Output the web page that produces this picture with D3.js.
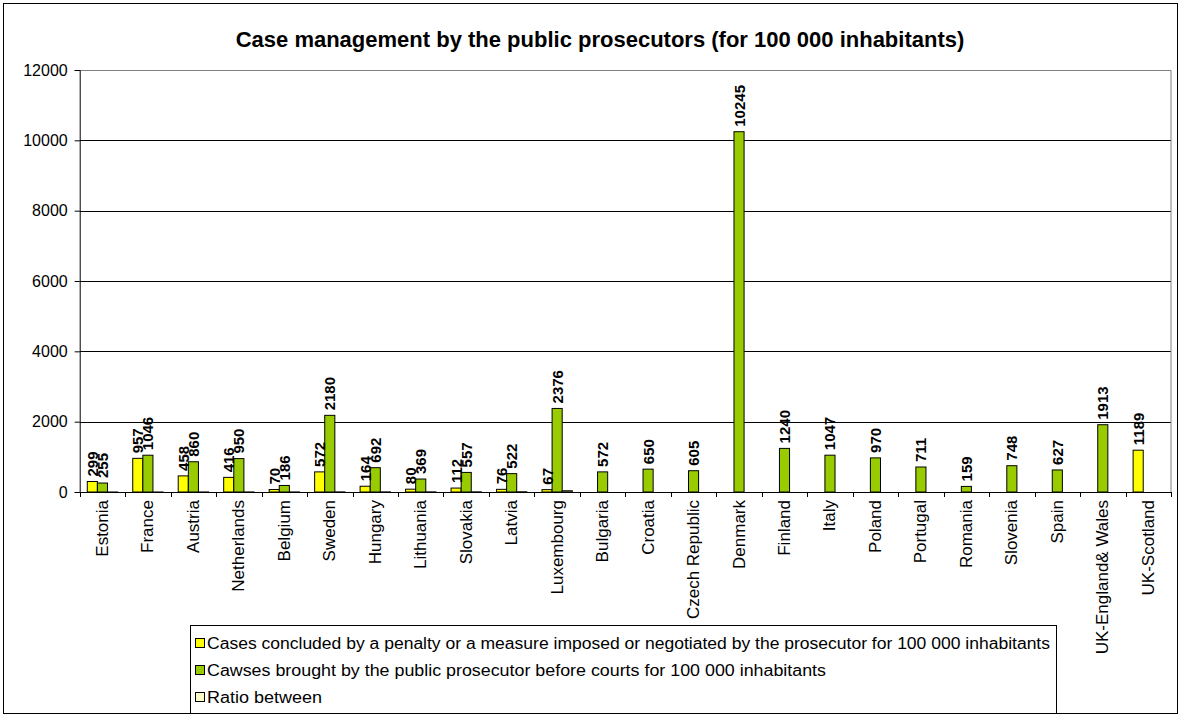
<!DOCTYPE html>
<html><head><meta charset="utf-8">
<script src="https://cdn.jsdelivr.net/npm/d3@7"></script>
<style>html,body{margin:0;padding:0;background:#fff}svg{display:block}text{font-family:"Liberation Sans",Arial,sans-serif}</style>
</head><body>
<svg id="c" width="1182" height="718"></svg>
<script>
const categories = ["Estonia","France","Austria","Netherlands","Belgium","Sweden","Hungary","Lithuania","Slovakia","Latvia","Luxembourg","Bulgaria","Croatia","Czech Republic","Denmark","Finland","Italy","Poland","Portugal","Romania","Slovenia","Spain","UK-England& Wales","UK-Scotland"];
const concluded = [299,957,458,416,70,572,164,80,112,76,67,null,null,null,null,null,null,null,null,null,null,null,null,1189];
const brought = [255,1046,860,950,186,2180,692,369,557,522,2376,572,650,605,10245,1240,1047,970,711,159,748,627,1913,null];
const ratio = [0.85,1.09,1.88,2.28,2.66,3.81,4.22,4.61,4.97,6.87,35.46,null,null,null,null,null,null,null,null,null,null,null,null,null];
const yTicks = [0,2000,4000,6000,8000,10000,12000];
const seriesNames = ["Cases concluded by a penalty or a measure imposed or negotiated by the prosecutor for 100 000 inhabitants","Cawses brought by the public prosecutor before courts for 100 000 inhabitants","Ratio between"];
const seriesColors = ["#FFFF00","#99CC00","#FFFFCC"];
const seriesData = [concluded, brought, ratio];
const labelled = [true, true, false];

const svg = d3.select("#c");
const L = 79.7, R = 1171, T = 70, B = 492;

svg.append("rect").attr("x",3.5).attr("y",3.5).attr("width",1174).attr("height",710)
  .attr("fill","#fff").attr("stroke","#000");

svg.append("text").attr("x",600).attr("y",47).attr("text-anchor","middle")
  .attr("font-size","22px").attr("font-weight","bold")
  .text("Case management by the public prosecutors (for 100 000 inhabitants)");

const y = d3.scaleLinear().domain([0,12000]).range([B,T]);
const x0 = d3.scaleBand().domain(categories).range([L,R]).paddingInner(0).paddingOuter(0);
const x1 = d3.scaleBand().domain([0,1,2]).range([0,x0.bandwidth()]).paddingInner(0).paddingOuter(0.75);

// gridlines
svg.append("g").selectAll("line").data(yTicks.filter(t=>t>0 && t<12000)).join("line")
  .attr("x1",L).attr("x2",R).attr("y1",d=>Math.round(y(d))+0.5).attr("y2",d=>Math.round(y(d))+0.5)
  .attr("stroke","#000");
// plot border top/right
svg.append("path").attr("d",`M${L},${Math.round(y(12000))+0.5}H${R}V${B}`).attr("fill","none").attr("stroke","#808080");

// bars
seriesData.forEach((arr,si)=>{
  const g = svg.append("g");
  categories.forEach((c,i)=>{
    const v = arr[i];
    if (v==null) return;
    g.append("rect").attr("x",x0(c)+x1(si)).attr("width",x1.bandwidth())
      .attr("y",y(v)).attr("height",B-y(v))
      .attr("fill",seriesColors[si]).attr("stroke","#000").attr("stroke-width",1);
  });
});
// labels
seriesData.forEach((arr,si)=>{
  if(!labelled[si]) return;
  categories.forEach((c,i)=>{
    const v = arr[i];
    if (v==null) return;
    const cx = x0(c)+x1(si)+x1.bandwidth()/2;
    svg.append("text").attr("transform",`translate(${cx},${y(v)-5}) rotate(-90)`)
      .attr("dominant-baseline","central").attr("font-size","15px").attr("font-weight","bold")
      .text(v);
  });
});

// y axis
const ya = svg.append("g").attr("transform",`translate(${L},0)`)
  .call(d3.axisLeft(y).tickValues(yTicks).tickSize(5).tickPadding(7).tickFormat(d3.format("d")));
ya.select(".domain").attr("stroke","#000");
ya.selectAll("text").attr("font-size","16px").attr("fill","#000").style("font-family",'"Liberation Sans",Arial,sans-serif');

// x axis
const xa = svg.append("g").attr("transform",`translate(0,${B})`);
xa.append("line").attr("x1",L).attr("x2",R).attr("y1",0.5).attr("y2",0.5).attr("stroke","#000");
const bounds = categories.map(c=>x0(c)).concat([R]);
xa.selectAll("line.tk").data(bounds).join("line").attr("class","tk")
  .attr("x1",d=>Math.round(d)+0.5).attr("x2",d=>Math.round(d)+0.5).attr("y1",0).attr("y2",5).attr("stroke","#000");
xa.selectAll("text").data(categories).join("text")
  .attr("transform",d=>`translate(${x0(d)+x0.bandwidth()/2},8) rotate(-90)`)
  .attr("text-anchor","end").attr("dominant-baseline","central").attr("font-size","17px")
  .text(d=>d);

// legend
const lg = svg.append("g");
lg.append("rect").attr("x",190.5).attr("y",625.5).attr("width",866).attr("height",88).attr("fill","#fff").attr("stroke","#000");
const widths = [843,619,115];
seriesNames.forEach((n,i)=>{
  const cy = 643 + i*27;
  lg.append("rect").attr("x",195.5).attr("y",cy-4.5).attr("width",9).attr("height",9)
    .attr("fill",seriesColors[i]).attr("stroke","#000");
  lg.append("text").attr("x",207).attr("y",cy).attr("dominant-baseline","central")
    .attr("font-size","16px").attr("textLength",widths[i]).attr("lengthAdjust","spacingAndGlyphs").text(n);
});
</script>
</body></html>
